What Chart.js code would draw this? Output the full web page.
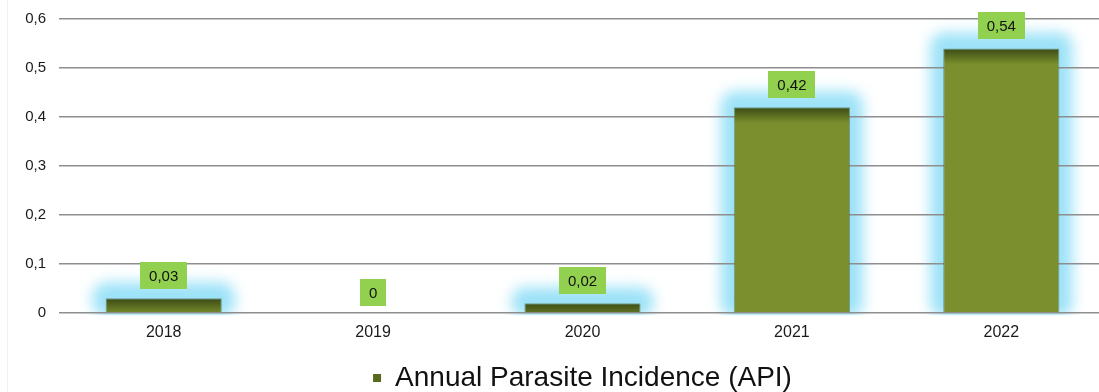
<!DOCTYPE html>
<html>
<head>
<meta charset="utf-8">
<script src="https://cdn.jsdelivr.net/npm/chart.js@4/dist/chart.umd.min.js"></script>
<style>
  html, body { margin: 0; padding: 0; background: #ffffff; overflow: hidden; }
  #wrap { position: relative; width: 1099px; height: 392px; overflow: hidden; }
  #edge { position: absolute; left: 7px; top: 0; width: 1px; height: 392px; background: #f1f1f1; }
  canvas { display: block; }
</style>
</head>
<body>
<div id="wrap">
  <canvas id="chart" width="1106" height="399"></canvas>
  <div id="edge"></div>
</div>
<script>
// Years on the x axis
const categories = ['2018', '2019', '2020', '2021', '2022'];
// Annual Parasite Incidence per year
const apiValues = [0.03, 0, 0.02, 0.42, 0.54];
// Value-axis ticks
const yTickValues = [0, 0.1, 0.2, 0.3, 0.4, 0.5, 0.6];
const seriesName = 'Annual Parasite Incidence (API)';

const FONT = "'Liberation Sans', Arial, sans-serif";

// Decimal comma formatting
function fmt(v, digits) {
  if (v === 0) return '0';
  return v.toFixed(digits).replace('.', ',');
}

// Olive bar fill: darker band along the top edge fading into olive
function barFill(ctx) {
  const chart = ctx.chart;
  const yScale = chart.scales.y;
  if (!yScale || ctx.raw === undefined) return '#7b8f2e';
  const top = yScale.getPixelForValue(ctx.raw);
  const g = chart.ctx.createLinearGradient(0, top, 0, top + 16);
  g.addColorStop(0, '#3c4a16');
  g.addColorStop(0.45, '#56691f');
  g.addColorStop(1, '#7b8f2e');
  return g;
}

// Soft cyan halo behind each non-zero bar, drawn before the grid
const barGlow = {
  id: 'barGlow',
  beforeDraw(chart) {
    const ctx = chart.ctx;
    const meta = chart.getDatasetMeta(0);
    meta.data.forEach((bar, i) => {
      const v = chart.data.datasets[0].data[i];
      if (!v) return;
      const { x, y, base, width } = bar.getProps(['x', 'y', 'base', 'width'], true);
      const pad = 13;
      ctx.save();
      ctx.beginPath();
      ctx.rect(0, 0, chart.width, base + 3);
      ctx.clip();
      ctx.filter = 'blur(7px)';
      ctx.fillStyle = 'rgb(156, 226, 248)';
      ctx.beginPath();
      ctx.roundRect(x - width / 2 - pad, y - pad - 3, width + pad * 2, base - y + pad + 8, 14);
      ctx.fill();
      ctx.restore();
    });
  }
};

// Green value boxes above each bar
const valueBoxes = {
  id: 'valueBoxes',
  afterDatasetsDraw(chart) {
    const ctx = chart.ctx;
    const meta = chart.getDatasetMeta(0);
    ctx.save();
    ctx.font = '15px ' + FONT;
    ctx.textAlign = 'center';
    ctx.textBaseline = 'middle';
    meta.data.forEach((bar, i) => {
      const v = chart.data.datasets[0].data[i];
      const text = fmt(v, 2);
      const { x, y } = bar.getProps(['x', 'y'], true);
      const w = ctx.measureText(text).width + 18;
      const h = 27;
      const bottom = y - (v ? 9 : 7);
      ctx.fillStyle = '#92d050';
      ctx.fillRect(Math.round(x - w / 2), Math.round(bottom - h), Math.round(w), h);
      ctx.fillStyle = '#111111';
      ctx.fillText(text, x, bottom - h / 2 + 1);
    });
    ctx.restore();
  }
};

new Chart(document.getElementById('chart'), {
  type: 'bar',
  data: {
    labels: categories,
    datasets: [{
      label: seriesName,
      data: apiValues,
      backgroundColor: barFill,
      borderColor: 'rgba(70, 85, 25, 0.5)',
      borderWidth: 1,
      borderSkipped: 'bottom',
      barPercentage: 0.555,
      categoryPercentage: 1.0
    }]
  },
  options: {
    responsive: false,
    animation: false,
    devicePixelRatio: 1,
    layout: { padding: { top: 19, right: 0, bottom: -3, left: 0 } },
    plugins: {
      tooltip: { enabled: false },
      legend: {
        position: 'bottom',
        fullSize: false,
        labels: {
          font: { family: FONT, size: 28 },
          color: '#111111',
          boxWidth: 8,
          boxHeight: 8,
          padding: 2,
          generateLabels(chart) {
            return chart.data.datasets.map((ds, i) => ({
              text: ds.label,
              fillStyle: '#56691f',
              strokeStyle: '#56691f',
              lineWidth: 0,
              datasetIndex: i,
              fontColor: '#111111'
            }));
          }
        }
      }
    },
    scales: {
      x: {
        grid: { display: false, drawTicks: false },
        border: { display: false },
        ticks: { font: { family: FONT, size: 16 }, color: '#1a1a1a', padding: 10 },
        afterFit(scale) { scale.height = 49; }
      },
      y: {
        min: 0,
        max: 0.6,
        afterBuildTicks(scale) { scale.ticks = yTickValues.map(v => ({ value: v })); },
        grid: { color: '#8e8e8e', lineWidth: 1.5, drawTicks: false },
        border: { display: false },
        ticks: {
          font: { family: FONT, size: 15 },
          color: '#1a1a1a',
          padding: 13,
          callback: (v) => fmt(v, 1)
        },
        afterFit(scale) {
          scale.width = 59;
          scale.paddingTop = 0;
          scale.paddingBottom = 0;
        }
      }
    }
  },
  plugins: [barGlow, valueBoxes]
});
</script>
</body>
</html>
